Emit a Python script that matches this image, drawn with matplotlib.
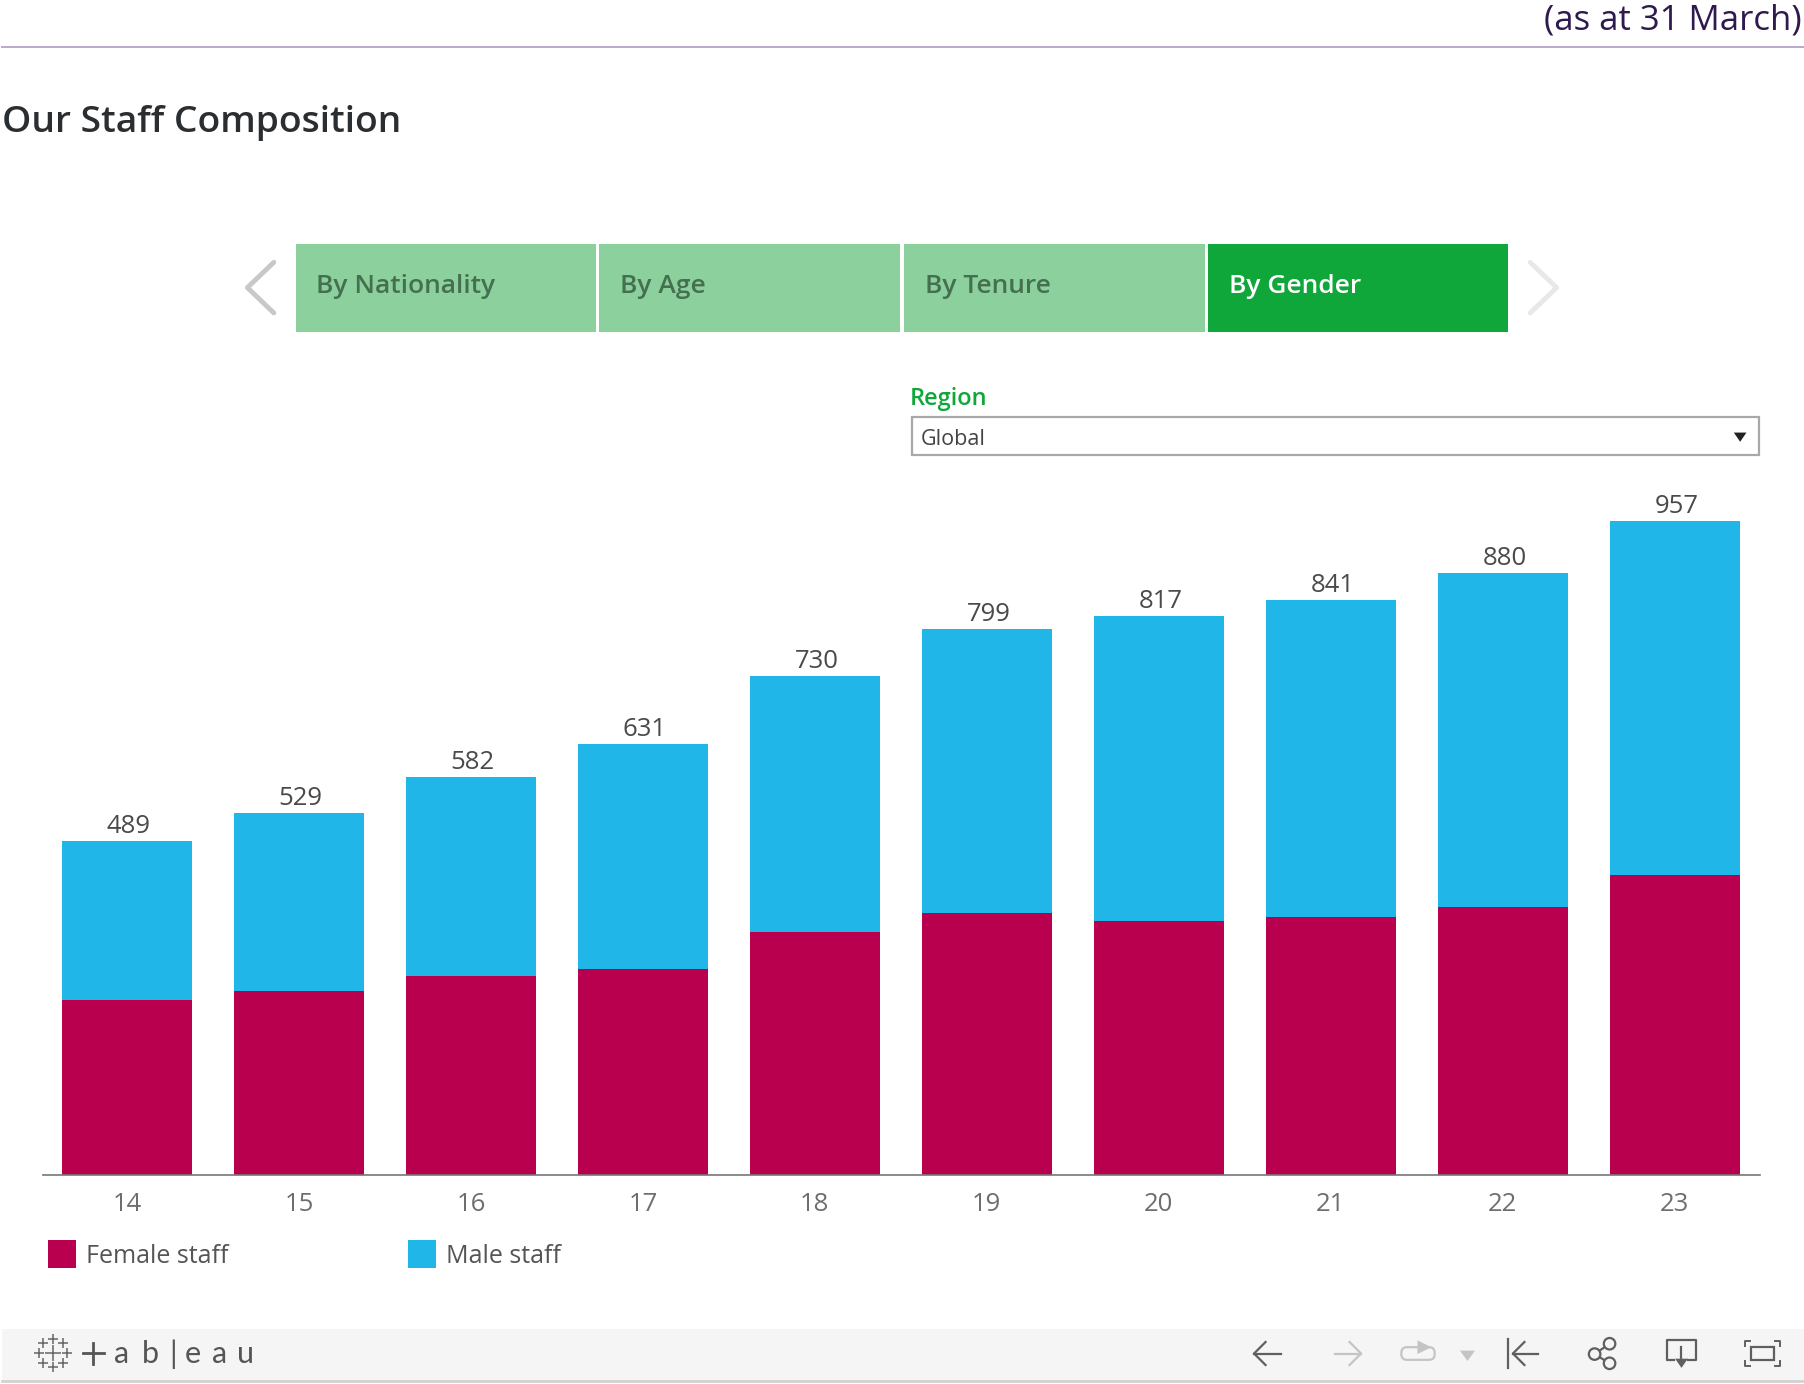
import matplotlib
matplotlib.use('Agg')
import matplotlib.pyplot as plt
from matplotlib.patches import Rectangle, Circle, FancyBboxPatch

plt.rcParams['font.family'] = ['Open Sans', 'DejaVu Sans']

# chart values
years = ['14', '15', '16', '17', '18', '19', '20', '21', '22', '23']
totals = [489, 529, 582, 631, 730, 799, 817, 841, 880, 957]
female = [256, 270, 291, 301, 355, 383, 372, 378, 392, 439]
male = [t - f for t, f in zip(totals, female)]
tabs = ['By Nationality', 'By Age', 'By Tenure', 'By Gender']

FEMALE_COL = '#b8004f'
MALE_COL = '#20b6e8'
GREY = '#5f5f5f'
LIGHT = '#c4c4c4'

fig = plt.figure(figsize=(18.04, 13.84), dpi=100)

# page furniture, laid out in the coordinates of the shrunk screenshot
page = fig.add_axes([0, 0, 1, 1])
page.set_xlim(0, 1568)
page.set_ylim(1203, 0)
page.axis('off')

page.text(1566, 18, '(as at 31 March)', ha='right', va='center', fontsize=25, color='#2f1a4f')
page.plot([2, 1568], [41, 41], color='#b9a9cc', lw=1.4)
page.text(2, 106.5, 'Our Staff Composition', ha='left', va='center', fontsize=26.8,
          fontweight='semibold', color='#2b2e31')

# tab strip
tab_x = [257, 521, 786, 1050]
for x, name in zip(tab_x, tabs):
    active = name == 'By Gender'
    page.add_patch(Rectangle((x, 212), 261, 76.5, color='#0fa739' if active else '#8bd09d', lw=0))
    page.text(x + 18, 249, name, ha='left', va='center', fontsize=19, fontweight='semibold',
              color='white' if active else '#44704f')
page.plot([238, 215, 238], [228, 250, 272], color='#c8c8c8', lw=3.5, solid_capstyle='round')
page.plot([1330, 1353, 1330], [228, 250, 272], color='#e8e8e8', lw=3.5, solid_capstyle='round')

# region filter
page.text(791, 347, 'Region', ha='left', va='center', fontsize=17, fontweight='semibold', color='#0fa739')
page.add_patch(Rectangle((793, 362.5), 736, 33, fc='white', ec='#a8a8a8', lw=1.6))
page.text(800, 382, 'Global', ha='left', va='center', fontsize=15.5, color='#444444')
page.fill([1507, 1518, 1512.5], [376, 376, 384], color='#222222', lw=0)

# legend
for x, col, name in [(42, FEMALE_COL, 'Female staff'), (355, MALE_COL, 'Male staff')]:
    page.add_patch(Rectangle((x, 1078), 24, 24, color=col, lw=0))
    page.text(x + 33, 1092.5, name, ha='left', va='center', fontsize=18, color='#555555')

# footer toolbar
page.add_patch(Rectangle((2, 1155), 1566, 45, color='#f5f5f5', lw=0))
page.plot([2, 1568], [1200.5, 1200.5], color='#d2d2d2', lw=2)
for x, y, s in [(46, 1176, 9), (37, 1167, 6), (46, 1164, 5), (55, 1167, 6), (37, 1185, 6), (55, 1185, 6),
                (46, 1188, 5), (34, 1176, 5), (58, 1176, 5)]:
    page.plot([x], [y], marker='+', ms=s * 1.3, mew=1.1, color='#666666')
page.plot([72, 90], [1176, 1176], color='#555555', lw=2)
page.plot([81, 81], [1167, 1186], color='#555555', lw=2)
for x, ch in zip([99, 123, 147, 161, 184, 206], ['a', 'b', '|', 'e', 'a', 'u']):
    page.text(x, 1177, ch, ha='left', va='center', fontsize=22, color='#555555', family='Lato')


def arrow(x0, x1, y, col):
    # head sits at x0
    d = 10 if x1 > x0 else -10
    page.plot([x0, x1], [y, y], color=col, lw=1.6)
    page.plot([x0 + d, x0, x0 + d], [y - 10, y, y + 10], color=col, lw=1.6)


arrow(1090, 1113, 1176.5, GREY)
arrow(1183, 1160, 1176.5, LIGHT)
page.add_patch(FancyBboxPatch((1218, 1171), 29, 11, boxstyle='round,pad=0,rounding_size=5',
                              fc='none', ec=LIGHT, lw=1.6))
page.fill([1232, 1232, 1244], [1165, 1177, 1171], color=LIGHT, lw=0)
page.fill([1269, 1282, 1275.5], [1174, 1174, 1183], color=LIGHT, lw=0)
page.plot([1311, 1311], [1164, 1189], color=GREY, lw=1.6)
arrow(1315, 1337, 1176.5, GREY)
page.plot([1399, 1386, 1399], [1168, 1177, 1185], color=GREY, lw=1.6)
for x, y in [(1399, 1168), (1386, 1177), (1399, 1185)]:
    page.add_patch(Circle((x, y), 5, fc='#f5f5f5', ec=GREY, lw=1.6, zorder=3))
page.plot([1455, 1449, 1449, 1474, 1474, 1467], [1182, 1182, 1165, 1165, 1182, 1182], color=GREY, lw=1.6)
page.plot([1461.5, 1461.5], [1171, 1184], color=GREY, lw=1.6)
page.fill([1456, 1467, 1461.5], [1181, 1181, 1189], color=GREY, lw=0)
page.add_patch(Rectangle((1522, 1171), 20, 11, fc='none', ec=GREY, lw=1.6))
for cx, dx in [(1517, 4), (1547, -4)]:
    for y0, y1 in [(1170, 1166), (1183, 1187)]:
        page.plot([cx, cx, cx + dx], [y0, y1, y1], color=GREY, lw=1.4)

# the chart itself; x and y limits line the bars up with the screenshot
ax = fig.add_axes([37 / 1568, 1 - 1021.5 / 1203, (1530 - 37) / 1568, (1021.5 - 430) / 1203])
ax.patch.set_alpha(0)
ax.bar(years, female, width=0.757, color=FEMALE_COL, lw=0)
ax.bar(years, male, width=0.757, bottom=female, color=MALE_COL, lw=0)
for i, t in enumerate(totals):
    ax.text(i + 0.01, t + 3, str(t), ha='center', va='bottom', fontsize=18.5, fontweight='medium',
            color='#4a4a4a')
ax.set_xlim(-0.491, 9.498)
ax.set_ylim(0, 995)
ax.set_yticks([])
for side in ['top', 'left', 'right']:
    ax.spines[side].set_visible(False)
ax.spines['bottom'].set_color('#777777')
ax.spines['bottom'].set_linewidth(1.2)
ax.tick_params(axis='x', length=0, pad=12, labelsize=18.5, labelcolor='#6e6e6e')

fig.savefig('out.png', dpi=100)
